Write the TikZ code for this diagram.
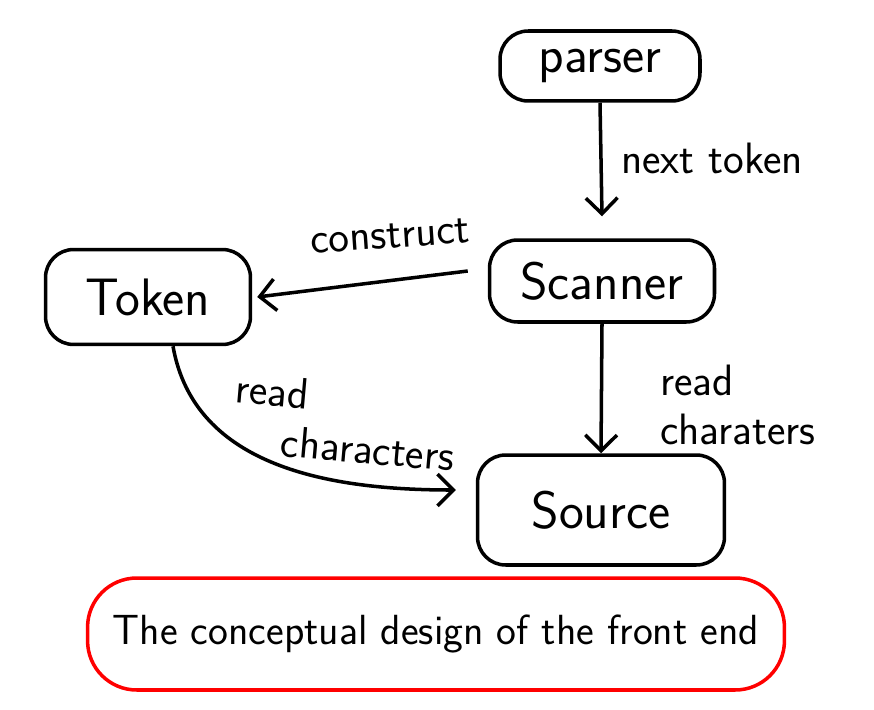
\documentclass[tikz,border=0pt]{standalone}
\usepackage{tikz}
\usetikzlibrary{arrows.meta}

\tikzset{
  blk/.style={draw, line width=2pt, rounded corners=16pt, inner sep=0pt,
              font=\sffamily\fontsize{30}{32}\selectfont},
  lbl/.style={font=\sffamily\fontsize{25}{28}\selectfont, align=left, inner sep=0pt},
  arr/.style={line width=2pt, -{Straight Barb[length=9pt,width=18pt,line width=2pt]}},
}

\begin{document}
\begin{tikzpicture}[x=0.02cm,y=-0.02cm]
\useasboundingbox (0,0) rectangle (874,709);

\node[blk, minimum width=4cm,    minimum height=1.4cm]  (parser)  at (600,66)  {parser};
\node[blk, minimum width=4.5cm,  minimum height=1.64cm] (scanner) at (602,281) {Scanner};
\node[blk, minimum width=4.1cm,  minimum height=1.9cm]  (token)   at (148,297) {Token};
\node[blk, minimum width=4.94cm, minimum height=2.2cm]  (source)  at (601,510) {Source};

\node[blk, draw=red, rounded corners=28pt, minimum width=13.94cm, minimum height=2.24cm,
      font=\sffamily\fontsize{24}{26}\selectfont] (caption) at (436,634)
      {The conceptual design of the front end};

\draw[arr] (parser.south) -- ([yshift=0.44cm]scanner.north);
\draw[arr] ([xshift=-0.4cm,yshift=0.2cm]scanner.west) -- ([xshift=0.1cm]token.east);
\draw[arr] (scanner.south) -- (source.north);
\draw[arr] ([xshift=0.5cm]token.south) to[out=-80, in=180] ([xshift=-0.4cm,yshift=0.4cm]source.west);

\node[lbl] (nexttok) at (712,158) {next token};
\node[lbl, rotate=4] (constr) at (390,236) {construct};
\node[lbl] (readsc) at (738,405) {read\\charaters};
\node[lbl, rotate=-5] (readtk) at (345,422) {read\\\hspace{1.0cm}characters};

\end{tikzpicture}
\end{document}
